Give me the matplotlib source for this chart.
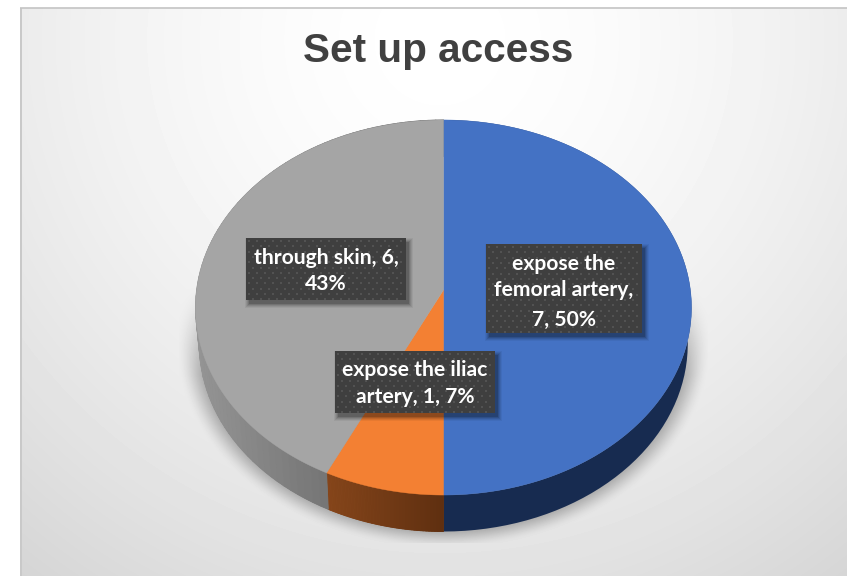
import numpy as np
import matplotlib
matplotlib.use("Agg")
import matplotlib.pyplot as plt
from matplotlib.patches import Polygon, Rectangle
from matplotlib.collections import PolyCollection

# Chart data
title = "Set up access"
categories = ["expose the femoral artery", "expose the iliac artery", "through skin"]
values = [7, 1, 6]

# Label text is broken by hand to fit the callout boxes
label_breaks = [
    ["expose the", "femoral artery,", "{v}, {p}%"],
    ["expose the iliac", "artery, {v}, {p}%"],
    ["through skin, {v},", "{p}%"],
]

W, H = 847, 576
top_colors = ["#4472c4", "#f38033", "#a5a5a5"]
# Side wall colours: shade at the left end and right end of each slice's wall
wall_left = ["#172b50", "#86461b", "#959595"]
wall_right = ["#172b50", "#5f2f10", "#5a5a5a"]

# Layout of the callouts: box left, top, right, bottom, then the line centres
boxes = [(486, 244, 642, 333), (335, 351, 495, 413), (246, 238, 406, 300)]
line_y = [[264, 290, 320], [370, 397], [258, 284]]

# Projection of the pie disc, with the nearer edge drawn larger
cx, apex_y = 443.5, 290.0
k, sx, sy = 0.0933, 246.9, 185.9
depth = 36.5
bottom_scale = 0.985


def project(theta, drop=0.0, xscale=1.0):
    u, v = np.sin(theta), -np.cos(theta)
    w = 1 - k * v
    return cx + xscale * sx * u / w, apex_y + sy * v / w + drop


fig = plt.figure(figsize=(W / 100, H / 100), dpi=100, facecolor="white")
ax = fig.add_axes([0, 0, 1, 1])
ax.set_xlim(0, W)
ax.set_ylim(H, 0)
ax.axis("off")

# Panel background: soft radial shading plus the cast shadow under the pie
yy, xx = np.mgrid[0:H, 0:W] + 0.5
dist = np.hypot(xx - 440, yy - 40)
shade = 255 - 19 * (dist / 413) ** 1.6
s = np.hypot((xx - cx) / 268, (yy - 343) / 206)
edge = np.clip((1.0 - s) / 0.12, 0, 1)
edge = edge * edge * (3 - 2 * edge)
fade = np.clip((yy - 285) / 90, 0, 1)
shadow = 0.31 * edge * fade
shadow[(xx < 179) | (xx > 708) | (yy > 543)] = 0
gray = shade * (1 - shadow)
gray[(xx < 20) | (yy < 8)] = 255
ax.imshow(gray, cmap="gray", vmin=0, vmax=255, extent=(0, W, H, 0), zorder=0,
          interpolation="bilinear", aspect="auto")
ax.plot([21, 21], [H, 8], color="#c9c9c9", lw=1.4, zorder=1, solid_capstyle="butt")
ax.plot([20, W], [8, 8], color="#c4c4c4", lw=1.2, zorder=1, solid_capstyle="butt")

# Slice angles run clockwise from twelve o'clock
total = sum(values)
edges = 2 * np.pi * np.cumsum([0] + values) / total

# Side walls: a solid base with narrow shaded strips over it
for i in range(len(values)):
    th = np.linspace(edges[i], edges[i + 1], 80)
    tx, ty = project(th)
    bx, by = project(th, depth, bottom_scale)
    xmin, xmax = bx.min(), bx.max()
    c0 = np.array(matplotlib.colors.to_rgb(wall_left[i]))
    c1 = np.array(matplotlib.colors.to_rgb(wall_right[i]))
    outline = np.column_stack([np.r_[tx, bx[::-1]], np.r_[ty, by[::-1]]])
    ax.add_patch(Polygon(outline, closed=True, facecolor=(c0 + c1) / 2,
                         edgecolor="none", zorder=2))
    if wall_left[i] == wall_right[i]:
        continue
    quads, cols = [], []
    for j in range(len(th) - 1):
        quads.append([(tx[j], ty[j]), (tx[j + 1], ty[j + 1]),
                      (bx[j + 1], by[j + 1]), (bx[j], by[j])])
        t = (bx[j] - xmin) / max(xmax - xmin, 1)
        cols.append(c0 + (c1 - c0) * t)
    ax.add_collection(PolyCollection(quads, facecolors=cols, edgecolors=cols,
                                     linewidths=0.6, zorder=2))

# Top face
for i in range(len(values)):
    th = np.linspace(edges[i], edges[i + 1], 300)
    px, py = project(th)
    pts = np.column_stack([np.r_[cx, px], np.r_[apex_y, py]])
    ax.add_patch(Polygon(pts, closed=True, facecolor=top_colors[i],
                         edgecolor=top_colors[i], lw=0.3, zorder=3))

# Callouts: soft drop shadow, dark box, dot texture, white text
for i, (x0, y0, x1, y1) in enumerate(boxes):
    for grow, a in [(4, 0.05), (3, 0.07), (2, 0.09), (1, 0.12), (0, 0.16)]:
        ax.add_patch(Rectangle((x0 + 3 - grow, y0 + 4 - grow), x1 - x0 + 2 * grow,
                               y1 - y0 + 2 * grow, facecolor="black", edgecolor="none",
                               alpha=a, zorder=4))
    ax.add_patch(Rectangle((x0, y0), x1 - x0, y1 - y0, facecolor="#3f3f3f",
                           edgecolor="none", zorder=5))
    dx, dy = [], []
    for row, yd in enumerate(np.arange(y0 + 3, y1, 5.3)):
        for xd in np.arange(x0 + 3 + (row % 2) * 4, x1 - 1, 8):
            dx.append(xd)
            dy.append(yd)
    ax.scatter(dx, dy, s=3.4, marker="s", color="#525252", linewidths=0, zorder=6)

    pct = round(100 * values[i] / total)
    mid = (x0 + x1) / 2
    for line, yl in zip(label_breaks[i], line_y[i]):
        ax.text(mid, yl, line.format(v=values[i], p=pct), color="white", family="Lato",
                fontweight="bold", fontsize=15.2, ha="center", va="center", zorder=7)

ax.text(438, 50.5, title, family="Liberation Sans", fontweight="bold", fontsize=29.2,
        color="#404040", ha="center", va="center", zorder=7)

fig.savefig("out.png", dpi=100, facecolor="white")
